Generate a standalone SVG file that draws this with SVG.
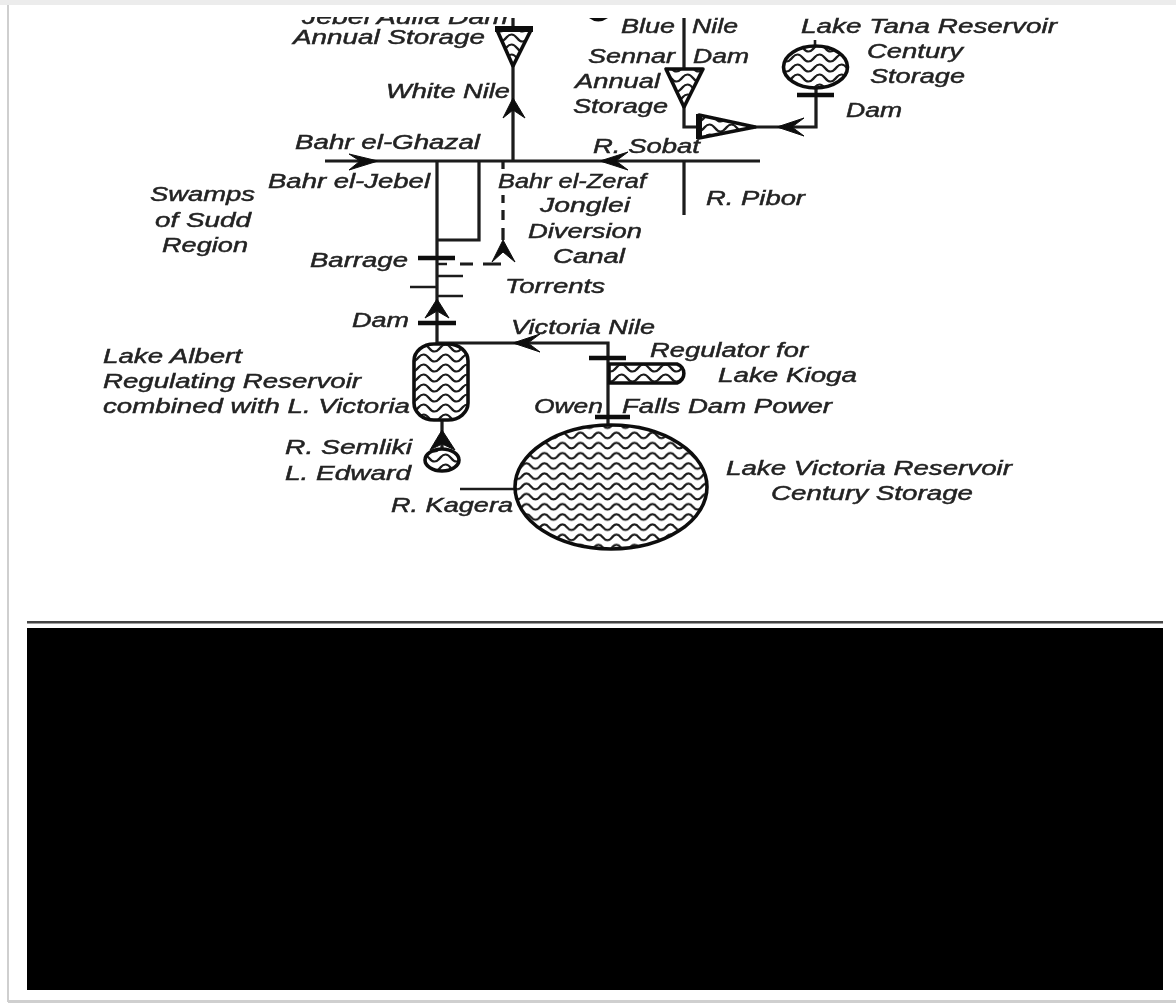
<svg xmlns="http://www.w3.org/2000/svg" width="1176" height="1003" viewBox="0 0 1176 1003">
<style>
.t{font-family:"Liberation Sans",Arial,sans-serif;font-style:italic;font-size:20px;fill:#222;stroke:#222;stroke-width:.45}
.l{fill:none;stroke:#1a1a1a;stroke-width:3.2}
.b{fill:none;stroke:#111;stroke-width:4.4}
.n{fill:none;stroke:#1a1a1a;stroke-width:2.6}
.o{stroke:#111;stroke-width:3.6;stroke-linejoin:round}
.w{fill:url(#wave)}
.w2{fill:url(#wave2)}
.a{fill:#111;stroke:#111;stroke-width:1;stroke-linejoin:round}
</style>
<defs>
<pattern id="wave" width="18" height="10.2" patternUnits="userSpaceOnUse" y="2">
<rect width="18" height="10.2" fill="#fff"/>
<path d="M-9 5Q-4.500 10.500 0 5Q4.500 -0.500 9 5Q13.500 10.500 18 5Q22.500 -0.500 27 5" fill="none" stroke="#1a1a1a" stroke-width="2.2"/>
</pattern>
<pattern id="wave2" width="22" height="10" patternUnits="userSpaceOnUse" y="3">
<rect width="22" height="10" fill="#fff"/>
<path d="M-11 5Q-5.500 12 0 5Q5.500 -2 11 5Q16.500 12 22 5Q27.500 -2 33 5" fill="none" stroke="#1a1a1a" stroke-width="2.2"/>
</pattern>
<clipPath id="topcut"><rect x="0" y="17" width="1176" height="40"/></clipPath>
<filter id="soft" x="-2%" y="-2%" width="104%" height="104%"><feGaussianBlur stdDeviation="0.7"/></filter>
</defs>
<rect width="1176" height="1003" fill="#fff"/>
<rect x="0" y="0" width="1176" height="5" fill="#ececec"/>
<rect x="7" y="5" width="2" height="997" fill="#cfcfcf"/>
<rect x="8" y="1000" width="1168" height="3" fill="#cfcfcf"/>
<g filter="url(#soft)">
<g id="connectors">
<path class="l" d="M513 18V161"/>
<path class="l" d="M325 161H760"/>
<path class="l" d="M437 161V343"/>
<path class="l" d="M479 161V240H437"/>
<path class="l" d="M503 161V169M503 195V203M503 210V220M503 228V240"/>
<path class="l" d="M460 264H473M483 264H501"/>
<path class="n" d="M437 264H447M437 276H463M410 287H437M437 296H463"/>
<path class="b" d="M418 258H455M418 323H456"/>
<path class="l" d="M437 343H608V425"/>
<path class="b" d="M589 358H626M595 417H630"/>
<path class="l" d="M442 420V450"/>
<path class="n" d="M460 489H516"/>
<path class="l" d="M684 18V127H699"/>
<path class="l" d="M684 161V215"/>
<path class="l" d="M755 127H816V88"/>
<path class="b" d="M797 95H834"/>
<path class="n" d="M815 40V48"/>
<path class="a" d="M378 161L349 154L360 161L349 170Z"/>
<path class="a" d="M513 98L503 118L513 110L525 118Z"/>
<path class="a" d="M503 240L492 262L503 252L515 262Z"/>
<path class="a" d="M437 299L425 318L437 311L449 318Z"/>
<path class="a" d="M513 343L540 334L528 343L540 352Z"/>
<path class="a" d="M442 430L430 450L442 444L455 450Z"/>
<path class="a" d="M777 127L804 118L792 127L804 136Z"/>
<path class="a" d="M600 161L628 152L616 161L628 170Z"/>
</g>
<g id="jebel-aulia-dam">
<path class="o w2" d="M497 30H531L513 66Z"/>
<path class="b" d="M495 29H533" style="stroke-width:6"/>
<text class="t" clip-path="url(#topcut)" x="302" y="24" textLength="206" lengthAdjust="spacingAndGlyphs">Jebel Aulia Dam</text>
<text class="t" x="293" y="44" textLength="192" lengthAdjust="spacingAndGlyphs">Annual Storage</text>
</g>
<g id="white-nile"><text class="t" x="386" y="98" textLength="124" lengthAdjust="spacingAndGlyphs">White Nile</text></g>
<g id="bahr-el-ghazal"><text class="t" x="295" y="149" textLength="185" lengthAdjust="spacingAndGlyphs">Bahr el-Ghazal</text></g>
<g id="bahr-el-jebel"><text class="t" x="268" y="188" textLength="162" lengthAdjust="spacingAndGlyphs">Bahr el-Jebel</text></g>
<g id="swamps">
<text class="t" x="150" y="201" textLength="105" lengthAdjust="spacingAndGlyphs">Swamps</text>
<text class="t" x="155" y="227" textLength="96" lengthAdjust="spacingAndGlyphs">of Sudd</text>
<text class="t" x="162" y="252" textLength="86" lengthAdjust="spacingAndGlyphs">Region</text>
</g>
<g id="barrage"><text class="t" x="310" y="267" textLength="98" lengthAdjust="spacingAndGlyphs">Barrage</text></g>
<g id="dam-albert"><text class="t" x="352" y="327" textLength="57" lengthAdjust="spacingAndGlyphs">Dam</text></g>
<g id="lake-albert">
<rect class="o w2" x="414" y="344" width="54" height="76" rx="20" ry="17"/>
<text class="t" x="103" y="363" textLength="139" lengthAdjust="spacingAndGlyphs">Lake Albert</text>
<text class="t" x="103" y="388" textLength="258" lengthAdjust="spacingAndGlyphs">Regulating Reservoir</text>
<text class="t" x="103" y="413" textLength="307" lengthAdjust="spacingAndGlyphs">combined with L. Victoria</text>
</g>
<g id="lake-edward">
<ellipse class="o w2" cx="442" cy="460" rx="17" ry="11"/>
<text class="t" x="285" y="454" textLength="127" lengthAdjust="spacingAndGlyphs">R. Semliki</text>
<text class="t" x="285" y="480" textLength="126" lengthAdjust="spacingAndGlyphs">L. Edward</text>
</g>
<g id="kagera"><text class="t" x="391" y="512" textLength="122" lengthAdjust="spacingAndGlyphs">R. Kagera</text></g>
<g id="lake-victoria">
<ellipse class="o w" cx="611" cy="487" rx="96" ry="62"/>
<text class="t" x="726" y="475" textLength="286" lengthAdjust="spacingAndGlyphs">Lake Victoria Reservoir</text>
<text class="t" x="771" y="500" textLength="202" lengthAdjust="spacingAndGlyphs">Century Storage</text>
</g>
<g id="owen-falls">
<text class="t" x="534" y="413" textLength="69" lengthAdjust="spacingAndGlyphs">Owen</text>
<text class="t" x="622" y="413" textLength="210" lengthAdjust="spacingAndGlyphs">Falls Dam Power</text>
</g>
<g id="lake-kioga">
<path class="o w2" d="M609 364H677A10 10 0 0 1 677 383H609Z"/>
<text class="t" x="650" y="357" textLength="158" lengthAdjust="spacingAndGlyphs">Regulator for</text>
<text class="t" x="718" y="382" textLength="139" lengthAdjust="spacingAndGlyphs">Lake Kioga</text>
</g>
<g id="victoria-nile"><text class="t" x="511" y="334" textLength="144" lengthAdjust="spacingAndGlyphs">Victoria Nile</text></g>
<g id="bahr-el-zeraf">
<text class="t" x="498" y="188" textLength="148" lengthAdjust="spacingAndGlyphs">Bahr el-Zeraf</text>
<text class="t" x="540" y="212" textLength="90" lengthAdjust="spacingAndGlyphs">Jonglei</text>
<text class="t" x="528" y="238" textLength="114" lengthAdjust="spacingAndGlyphs">Diversion</text>
<text class="t" x="553" y="263" textLength="72" lengthAdjust="spacingAndGlyphs">Canal</text>
</g>
<g id="torrents"><text class="t" x="505" y="293" textLength="100" lengthAdjust="spacingAndGlyphs">Torrents</text></g>
<g id="blue-nile">
<path d="M589 18H608Q598 25 589 18Z" fill="#111"/>
<text class="t" x="621" y="33" textLength="54" lengthAdjust="spacingAndGlyphs">Blue</text>
<text class="t" x="692" y="33" textLength="46" lengthAdjust="spacingAndGlyphs">Nile</text>
</g>
<g id="sennar-dam">
<path class="o w2" d="M666 69H703L684 107Z"/>
<text class="t" x="588" y="63" textLength="87" lengthAdjust="spacingAndGlyphs">Sennar</text>
<text class="t" x="693" y="63" textLength="56" lengthAdjust="spacingAndGlyphs">Dam</text>
<text class="t" x="575" y="88" textLength="85" lengthAdjust="spacingAndGlyphs">Annual</text>
<text class="t" x="573" y="113" textLength="95" lengthAdjust="spacingAndGlyphs">Storage</text>
</g>
<g id="roseires">
<path class="o w2" d="M699 115L755 127L699 138Z"/>
<path class="b" d="M699 114V139" style="stroke-width:6"/>
</g>
<g id="lake-tana">
<ellipse class="o w2" cx="815.500" cy="67" rx="32" ry="21"/>
<text class="t" x="801" y="33" textLength="256" lengthAdjust="spacingAndGlyphs">Lake Tana Reservoir</text>
<text class="t" x="867" y="58" textLength="96" lengthAdjust="spacingAndGlyphs">Century</text>
<text class="t" x="870" y="83" textLength="95" lengthAdjust="spacingAndGlyphs">Storage</text>
<text class="t" x="846" y="117" textLength="56" lengthAdjust="spacingAndGlyphs">Dam</text>
</g>
<g id="sobat"><text class="t" x="593" y="153" textLength="107" lengthAdjust="spacingAndGlyphs">R. Sobat</text></g>
<g id="pibor"><text class="t" x="706" y="205" textLength="99" lengthAdjust="spacingAndGlyphs">R. Pibor</text></g>
<rect x="27" y="621" width="1136" height="2.5" fill="#444"/>
<rect x="27" y="628" width="1136" height="362" fill="#060606"/>
</g>
</svg>
